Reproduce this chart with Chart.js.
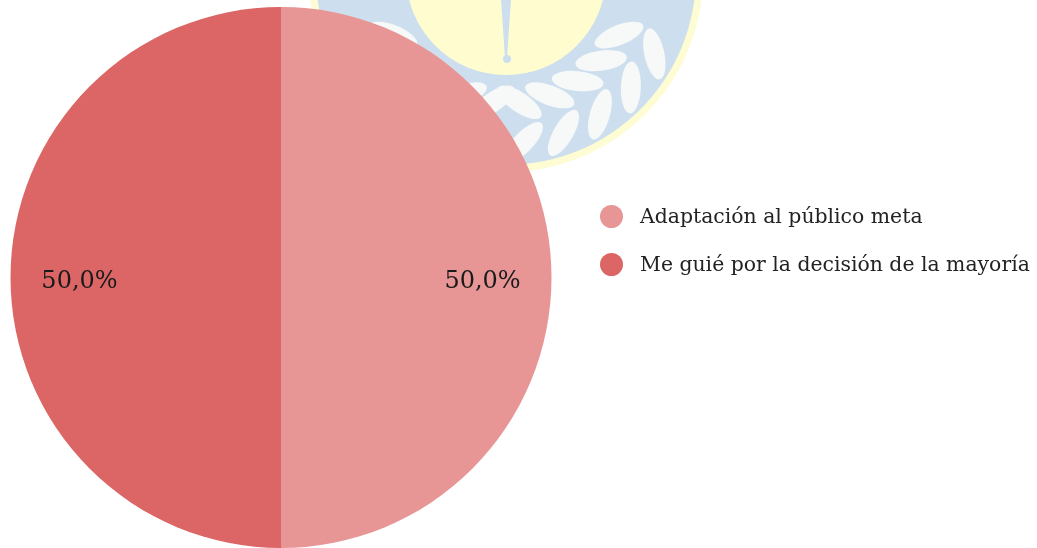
<!DOCTYPE html>
<html>
<head>
<meta charset="utf-8">
<script src="https://cdn.jsdelivr.net/npm/chart.js@4"></script>
<style>
  html, body { margin: 0; padding: 0; background: #fff; }
  .wrap { position: relative; width: 1037px; height: 548px; overflow: hidden; }
  canvas { position: absolute; left: 0; top: 0; }
  .legend { position: absolute; left: 600px; top: 192px; font-family: "DejaVu Serif", serif; font-size: 20.4px; color: #222; }
  .legend div { display: flex; align-items: center; height: 48px; white-space: nowrap; }
  .legend span.dot { display: inline-block; width: 23px; height: 23px; border-radius: 50%; margin-right: 17px; }
</style>
</head>
<body>
<div class="wrap">
  <canvas class="js-chart" width="1037" height="548"></canvas>
  <div class="legend js-legend"></div>
</div>
<script>
const labels = ["Adaptación al público meta", "Me guié por la decisión de la mayoría"];
const values = [50, 50];
const colors = ["#e79595", "#dc6565"];

const ctx = document.querySelector(".js-chart").getContext("2d");

// logo de fondo (marca de agua)
const watermark = {
  id: "watermark",
  beforeDraw(chart) {
    const c = chart.ctx;
    const cx = 506, cy = -25;
    c.save();
    c.fillStyle = "#fdfcd2";
    c.beginPath(); c.arc(cx, cy, 197, 0, Math.PI * 2); c.fill();
    c.fillStyle = "#cddfee";
    c.beginPath(); c.arc(cx, cy, 190, 0, Math.PI * 2); c.fill();
    // hojas de laurel (pares a lo largo de la rama)
    c.fillStyle = "#f7f8f8";
    const leaves = [28, 42, 56, 70, 84, 96, 110, 124, 138, 152];
    leaves.forEach((deg) => {
      const a = (deg * Math.PI) / 180;
      const side = deg < 90 ? -1 : 1;
      [[128, -0.7], [168, 0.7]].forEach(([rad, tilt]) => {
        c.save();
        c.translate(cx + Math.cos(a) * rad, cy + Math.sin(a) * rad);
        c.rotate(a + Math.PI / 2 + side * tilt);
        c.beginPath(); c.ellipse(0, 0, 26, 10, 0, 0, Math.PI * 2); c.fill();
        c.restore();
      });
    });
    c.fillStyle = "#fffdcf";
    c.beginPath(); c.arc(cx, cy, 100, 0, Math.PI * 2); c.fill();
    // aguja
    c.fillStyle = "#cddfee";
    c.beginPath();
    c.moveTo(cx - 5, 0); c.lineTo(cx + 5, 0); c.lineTo(cx + 1, 58); c.lineTo(cx - 1, 58);
    c.closePath(); c.fill();
    c.beginPath(); c.arc(cx + 1, 59, 4, 0, Math.PI * 2); c.fill();
    c.restore();
  },
};

// etiquetas de porcentaje
const pctLabels = {
  id: "pctLabels",
  afterDatasetsDraw(chart) {
    const c = chart.ctx;
    const data = chart.data.datasets[0].data;
    const total = data.reduce((a, b) => a + b, 0);
    c.save();
    c.font = "24px 'DejaVu Serif', serif";
    c.fillStyle = "#1a1a1a";
    c.textAlign = "center";
    c.textBaseline = "middle";
    chart.getDatasetMeta(0).data.forEach((arc, i) => {
      const { x, y, startAngle, endAngle, outerRadius } = arc.getProps(
        ["x", "y", "startAngle", "endAngle", "outerRadius"], true);
      const mid = (startAngle + endAngle) / 2;
      const r = outerRadius * 0.745;
      const text = ((data[i] / total) * 100).toFixed(1).replace(".", ",") + "%";
      c.fillText(text, x + Math.cos(mid) * r, y + Math.sin(mid) * r + 4);
    });
    c.restore();
  },
};

new Chart(ctx, {
  type: "pie",
  data: {
    labels,
    datasets: [
      {
        data: values,
        backgroundColor: colors,
        borderWidth: 0,
      },
    ],
  },
  options: {
    responsive: false,
    animation: false,
    layout: { padding: { left: 10, top: 7, right: 485, bottom: 0 } },
    plugins: {
      legend: { display: false },
      tooltip: { enabled: false },
    },
  },
  plugins: [watermark, pctLabels],
});

// leyenda
const legendEl = document.querySelector(".js-legend");
labels.forEach((label, i) => {
  const row = document.createElement("div");
  const dot = document.createElement("span");
  dot.className = "dot";
  dot.style.background = colors[i];
  row.appendChild(dot);
  row.appendChild(document.createTextNode(label));
  legendEl.appendChild(row);
});
</script>
</body>
</html>
